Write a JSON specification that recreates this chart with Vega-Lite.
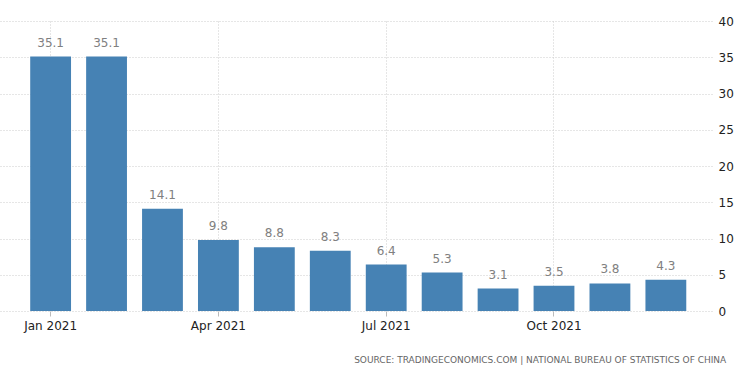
{
  "$schema": "https://vega.github.io/schema/vega-lite/v6.json",
  "autosize": {"type": "none"},
  "width": 712,
  "height": 290,
  "padding": {"left": 0, "top": 21, "right": 38, "bottom": 62},
  "background": "white",
  "config": {"view": {"stroke": null}, "font": "DejaVu Sans"},
  "title": {
    "text": "SOURCE: TRADINGECONOMICS.COM | NATIONAL BUREAU OF STATISTICS OF CHINA",
    "orient": "bottom",
    "anchor": "end",
    "fontSize": 9,
    "fontWeight": "normal",
    "color": "#666666",
    "offset": 25,
    "dx": -7
  },
  "data": {
    "values": [
      {"month": "Jan 2021", "value": 35.1},
      {"month": "Feb 2021", "value": 35.1},
      {"month": "Mar 2021", "value": 14.1},
      {"month": "Apr 2021", "value": 9.8},
      {"month": "May 2021", "value": 8.8},
      {"month": "Jun 2021", "value": 8.3},
      {"month": "Jul 2021", "value": 6.4},
      {"month": "Aug 2021", "value": 5.3},
      {"month": "Sep 2021", "value": 3.1},
      {"month": "Oct 2021", "value": 3.5},
      {"month": "Nov 2021", "value": 3.8},
      {"month": "Dec 2021", "value": 4.3}
    ]
  },
  "encoding": {
    "x": {
      "field": "month",
      "type": "ordinal",
      "sort": null,
      "scale": {"paddingInner": 0.27, "paddingOuter": 0.5, "align": 0.54},
      "axis": {
        "title": null,
        "values": ["Jan 2021", "Apr 2021", "Jul 2021", "Oct 2021"],
        "labelAngle": 0,
        "labelFontSize": 12,
        "labelColor": "#222222",
        "labelPadding": 4,
        "domain": false,
        "ticks": true,
        "tickSize": 5,
        "tickColor": "#bbbbbb",
        "grid": true,
        "gridColor": "#cccccc",
        "gridDash": [1, 2],
        "bandPosition": 0.5
      }
    },
    "y": {
      "field": "value",
      "type": "quantitative",
      "scale": {"domain": [0, 40]},
      "axis": {
        "orient": "right",
        "title": null,
        "values": [0, 5, 10, 15, 20, 25, 30, 35, 40],
        "labelFontSize": 12,
        "labelColor": "#222222",
        "labelPadding": 6,
        "domain": false,
        "ticks": false,
        "grid": true,
        "gridColor": "#cccccc",
        "gridDash": [1, 2]
      }
    }
  },
  "layer": [
    {"mark": {"type": "bar", "color": "#4682b4"}},
    {
      "mark": {"type": "text", "baseline": "bottom", "dy": -7, "fontSize": 12, "color": "#808080"},
      "encoding": {"text": {"field": "value", "type": "quantitative", "format": ".1f"}}
    }
  ]
}
